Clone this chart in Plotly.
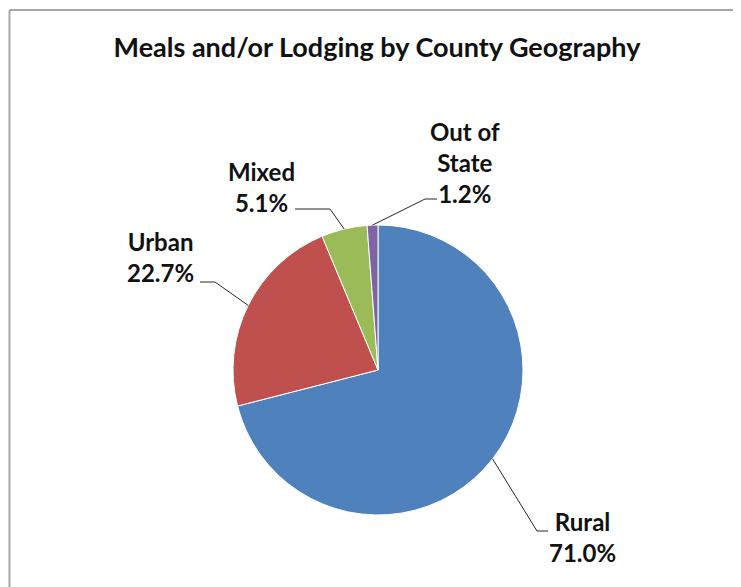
import math

import plotly.graph_objects as go

# Data
categories = ["Rural", "Urban", "Mixed", "Out of State"]
shares = [71.0, 22.7, 5.1, 1.2]
label_names = ["Rural", "Urban", "Mixed", "Out of<br>State"]

colors = ["#4F81BD", "#C0504D", "#9BBB59", "#8064A2"]

# the page body has an 8px margin, so the figure starts at (8, 8)
OFF = 8
W, H = 741 - OFF, 587 - OFF
# pie centre and radius in screen pixels
CX, CY, R = 378, 370, 145

# callout layout (screen pixels): elbow of the leader line, end of the
# short horizontal bit, centre of the text block
callouts = {
    "Rural": {"elbow": (537, 531), "end": (548, 531), "text": (582, 537)},
    "Urban": {"elbow": (215, 282), "end": (200, 282), "text": (160, 257)},
    "Mixed": {"elbow": (330, 209), "end": (295, 209), "text": (261, 187)},
    "Out of State": {"elbow": (425, 199), "end": (437, 199), "text": (465, 162)},
}

FONT = "Lato, 'Open Sans', sans-serif"


def px(x, y):
    return (x - OFF) / W, 1 - (y - OFF) / H


fig = go.Figure(
    go.Pie(
        labels=categories,
        values=shares,
        sort=False,
        direction="clockwise",
        rotation=0,
        marker={"colors": colors, "line": {"color": "white", "width": 1}},
        textinfo="none",
        hoverinfo="label+percent",
        domain={
            "x": [px(CX - R, 0)[0], px(CX + R, 0)[0]],
            "y": [px(0, CY + R)[1], px(0, CY - R)[1]],
        },
        showlegend=False,
    )
)

shapes = []
annotations = []
total = sum(shares)
cum = 0.0
for name, text, v in zip(categories, label_names, shares):
    mid = (cum + v / 2) / total * 2 * math.pi
    cum += v
    ex, ey = CX + R * math.sin(mid), CY - R * math.cos(mid)
    c = callouts[name]
    pts = [px(ex, ey), px(*c["elbow"]), px(*c["end"])]
    path = "M {} {} L {} {} L {} {}".format(*[k for p in pts for k in p])
    shapes.append(
        {
            "type": "path",
            "xref": "paper",
            "yref": "paper",
            "path": path,
            "line": {"color": "#262626", "width": 1},
        }
    )
    tx, ty = px(*c["text"])
    annotations.append(
        {
            "x": tx,
            "y": ty,
            "xref": "paper",
            "yref": "paper",
            "xanchor": "center",
            "yanchor": "middle",
            "align": "center",
            "showarrow": False,
            "text": "<b>{}<br>{:.1f}%</b>".format(text, v),
            "font": {"family": FONT, "size": 24, "color": "#111111"},
        }
    )

# chart frame: only the top and left edges are inside the picture
fx, fy = px(9.5, 10)
for x0, y0, x1, y1 in [(fx, fy, 1, fy), (fx, 0, fx, fy)]:
    shapes.append(
        {
            "type": "line",
            "xref": "paper",
            "yref": "paper",
            "x0": x0,
            "y0": y0,
            "x1": x1,
            "y1": y1,
            "line": {"color": "#A6A6A6", "width": 2},
        }
    )

tx, ty = px(377, 48)
fig.update_layout(
    width=W,
    height=H,
    margin={"l": 0, "r": 0, "t": 0, "b": 0},
    paper_bgcolor="white",
    plot_bgcolor="white",
    title={
        "text": "<b>Meals and/or Lodging by County Geography</b>",
        "x": tx,
        "xanchor": "center",
        "y": ty,
        "yanchor": "middle",
        "font": {"family": FONT, "size": 27, "color": "#111111"},
    },
    shapes=shapes,
    annotations=annotations,
)

fig.write_html("out.html")
